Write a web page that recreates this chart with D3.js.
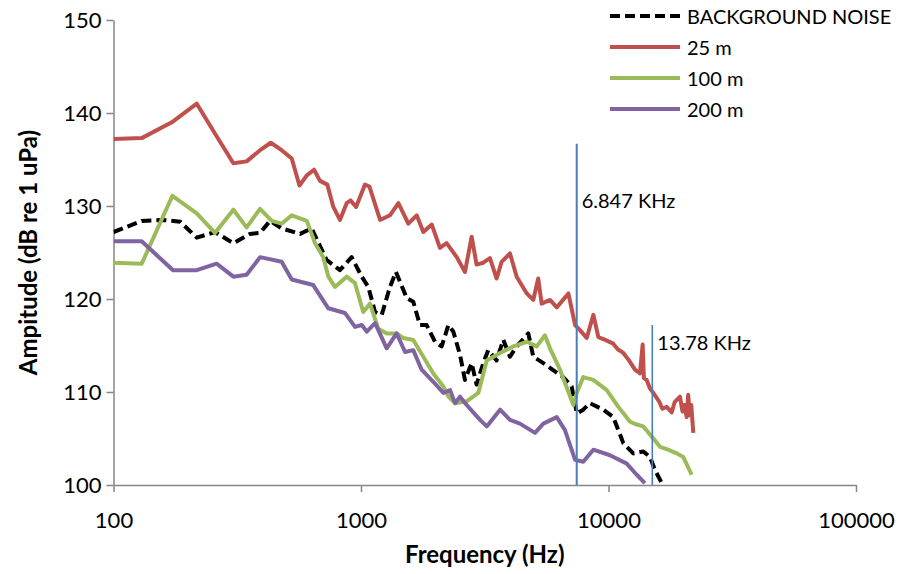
<!DOCTYPE html>
<html>
<head>
<meta charset="utf-8">
<script src="https://cdn.jsdelivr.net/npm/d3@7"></script>
<style>
    html, body { margin: 0; padding: 0; background: #fff; }
    #chart { width: 902px; height: 574px; }
    .axis path, .axis line { stroke: #868686; stroke-width: 1.5; }
    .axis text { font-family: Lato, 'Open Sans', sans-serif; font-size: 22px; fill: #000; }
    .title { font-family: Lato, 'Open Sans', sans-serif; font-size: 24px; font-weight: bold; fill: #000; }
    .legend text, .marker text { font-family: Lato, 'Open Sans', sans-serif; font-size: 20px; fill: #000; }
    .line { fill: none; stroke-width: 4; stroke-linejoin: round; }
</style>
</head>
<body>
<div id="chart"></div>
<script>

const xTicks = [100, 1000, 10000, 100000];
const yTicks = [100, 110, 120, 130, 140, 150];

const seriesNames = ['BACKGROUND NOISE', '25 m', '100 m', '200 m'];

// [frequency Hz, amplitude dB]
const backgroundNoise = [
    [100, 127.2], [130, 128.4], [159, 128.5], [186, 128.3], [217, 126.6], [257, 127.2],
    [305, 126.0], [356, 127.0], [391, 127.1], [429, 128.4], [478, 127.6], [567, 127.0],
    [632, 127.6], [726, 124.2], [822, 123.1], [917, 124.5], [1007, 122.4], [1070, 121.3],
    [1140, 118.6], [1213, 118.3], [1309, 121.3], [1384, 122.9], [1531, 120.1], [1626, 119.7],
    [1730, 117.2], [1841, 117.2], [1991, 115.4], [2118, 114.9], [2254, 117.2], [2360, 116.5],
    [2512, 114.0], [2630, 111.3], [2800, 113.1], [2931, 110.8], [3118, 113.1], [3266, 114.5],
    [3532, 113.4], [3758, 115.6], [3999, 113.8], [4256, 114.9], [4742, 116.3], [4966, 113.8],
    [5455, 113.1], [5803, 112.6], [6561, 111.6], [7096, 110.6], [7447, 107.7], [7907, 108.1],
    [8414, 108.8], [9528, 108.1], [10450, 107.3], [11480, 104.5], [12590, 103.4], [13830, 103.6],
    [14720, 103.0], [15420, 101.6], [16410, 100.2]
];

const range25m = [
    [100, 137.2], [130, 137.3], [172, 139.0], [217, 141.0], [261, 137.5], [305, 134.6],
    [345, 134.8], [391, 136.0], [432, 136.8], [478, 136.0], [525, 135.1], [564, 132.2],
    [604, 133.3], [646, 133.9], [683, 132.7], [731, 132.3], [773, 129.9], [822, 128.5],
    [875, 130.3], [908, 130.6], [955, 129.9], [1038, 132.3], [1081, 132.1], [1194, 128.5],
    [1309, 129.0], [1416, 130.3], [1553, 128.1], [1679, 129.0], [1786, 127.2], [1932, 128.0],
    [2084, 125.5], [2218, 126.0], [2437, 124.5], [2630, 122.9], [2800, 126.7], [2931, 123.7],
    [3118, 123.9], [3319, 124.4], [3532, 122.2], [3700, 124.0], [3999, 124.9], [4256, 122.4],
    [4675, 120.6], [4966, 119.9], [5200, 122.2], [5370, 119.5], [5803, 119.9], [6180, 119.1],
    [6886, 120.6], [7328, 117.2], [7700, 116.6], [8166, 115.8], [8685, 118.3], [9099, 115.9],
    [9700, 115.6], [10450, 115.2], [10900, 114.6], [11480, 114.2], [12100, 113.4], [12790, 112.4],
    [13400, 112.0], [13740, 115.1], [13900, 111.5], [14260, 111.3], [14700, 110.4], [15170, 109.9],
    [16000, 109.0], [16500, 108.2], [17180, 108.4], [18000, 107.8], [18500, 108.9], [19440, 109.5],
    [19900, 107.9], [20300, 108.6], [20690, 107.3], [20990, 109.7], [21300, 107.5], [21600, 108.6],
    [22010, 105.6]
];

const range100m = [
    [100, 123.9], [130, 123.8], [173, 131.1], [217, 129.2], [257, 127.1], [305, 129.6],
    [345, 127.7], [391, 129.7], [436, 128.4], [478, 128.1], [525, 129.0], [604, 128.4],
    [652, 126.0], [704, 124.5], [738, 122.4], [785, 121.3], [875, 122.4], [946, 121.7],
    [1021, 118.6], [1087, 119.5], [1175, 116.8], [1270, 116.3], [1393, 116.3], [1482, 115.8],
    [1626, 115.6], [1786, 113.8], [1959, 112.0], [2152, 110.6], [2254, 109.5], [2397, 108.8],
    [2673, 109.0], [2979, 109.9], [3221, 113.4], [3647, 114.2], [4121, 114.9], [4675, 115.4],
    [5129, 114.9], [5535, 116.1], [5803, 114.7], [6368, 112.4], [7211, 108.6], [7463, 110.0],
    [7907, 111.6], [8685, 111.3], [9840, 110.2], [10960, 108.4], [12220, 106.8], [13000, 106.5],
    [13830, 106.3], [14960, 105.2], [16150, 104.1], [17400, 103.8], [18870, 103.4], [20060, 103.0],
    [21680, 101.1]
];

const range200m = [
    [100, 126.2], [130, 126.2], [174, 123.1], [217, 123.1], [261, 123.8], [305, 122.4],
    [345, 122.6], [391, 124.5], [478, 124.0], [525, 122.1], [641, 121.5], [738, 119.0],
    [861, 118.5], [946, 117.0], [1007, 117.2], [1055, 116.5], [1140, 117.4], [1270, 114.7],
    [1393, 116.3], [1507, 114.3], [1626, 114.5], [1758, 112.4], [1959, 111.1], [2152, 109.9],
    [2291, 110.2], [2397, 108.8], [2512, 109.5], [2673, 108.6], [3027, 107.0], [3221, 106.3],
    [3647, 108.1], [3999, 107.0], [4387, 106.6], [5047, 105.6], [5455, 106.6], [6180, 107.3],
    [6670, 105.9], [7328, 102.7], [7907, 102.5], [8685, 103.8], [10140, 103.2], [11850, 102.3],
    [13000, 101.1], [14030, 100.2]
];

// cut-off markers
const markerFreqs = [7440, 15030];
const markerTops = [136.7, 117.2];
const markerLabels = ['6.847 KHz', '13.78 KHz'];
const markerLabelLevels = [130.6, 115.4];


class SpectrumChart {


    constructor(series) {

        this._series = series;
        this._width = 902;
        this._height = 574;
        this._margin = {
            left: 113.5,
            top: 20,
            right: 46,
            bottom: 89
        };
    }


    renderTo(selector) {

        this._svg = d3.select(selector)
            .append('svg')
            .attr('width', this._width)
            .attr('height', this._height);

        this._canvas = this._svg
            .append('g')
            .attr('transform', 'translate(' + [this._margin.left, this._margin.top] + ')');

        this._canvas.append('defs')
            .append('clipPath')
            .attr('id', 'clip')
            .append('rect')
            .attr('x', 0)
            .attr('y', -5)
            .attr('width', this._getInnerWidth())
            .attr('height', this._getInnerHeight() + 5);

        this._drawAxes();
        this._drawSeries();
        this._drawMarkers();
        this._drawLegend();

        return this;
    }


    _drawAxes() {

        const x = this._getXScale();
        const y = this._getYScale();

        this._canvas.append('g')
            .attr('class', 'axis y-axis')
            .call(d3.axisLeft(y)
                .tickValues(yTicks)
                .tickSize(7)
                .tickSizeOuter(0)
                .tickPadding(5));

        this._canvas.append('g')
            .attr('class', 'axis x-axis')
            .attr('transform', 'translate(0,' + this._getInnerHeight() + ')')
            .call(d3.axisBottom(x)
                .tickValues(xTicks)
                .tickFormat(d3.format('d'))
                .tickSize(7)
                .tickSizeOuter(0)
                .tickPadding(20));

        this._svg.append('text')
            .attr('class', 'title')
            .attr('transform', 'translate(27,' + (this._margin.top + this._getInnerHeight() / 2) + ') rotate(-90)')
            .attr('text-anchor', 'middle')
            .attr('dominant-baseline', 'central')
            .text('Ampitude (dB re 1 uPa)');

        this._svg.append('text')
            .attr('class', 'title')
            .attr('x', this._margin.left + this._getInnerWidth() / 2)
            .attr('y', 553)
            .attr('text-anchor', 'middle')
            .attr('dominant-baseline', 'central')
            .text('Frequency (Hz)');
    }


    _drawSeries() {

        const line = this._getLineGenerator();

        this._canvas.append('g')
            .attr('clip-path', 'url(#clip)')
            .selectAll('path')
            .data(this._series)
            .join('path')
            .attr('class', 'line')
            .attr('stroke', d => d.color)
            .attr('stroke-dasharray', d => d.dash)
            .attr('d', d => line(d.values));
    }


    _drawMarkers() {

        const x = this._getXScale();
        const y = this._getYScale();

        const marker = this._canvas.selectAll('g.marker')
            .data(markerFreqs)
            .join('g')
            .attr('class', 'marker');

        marker.append('line')
            .attr('x1', d => x(d))
            .attr('x2', d => x(d))
            .attr('y1', (d, i) => y(markerTops[i]))
            .attr('y2', y(100))
            .attr('stroke', '#4a7ebb')
            .attr('stroke-width', (d, i) => i === 0 ? 2 : 1.6);

        marker.append('text')
            .attr('x', d => x(d) + 5)
            .attr('y', (d, i) => y(markerLabelLevels[i]))
            .attr('dominant-baseline', 'central')
            .text((d, i) => markerLabels[i]);
    }


    _drawLegend() {

        const rows = this._svg.append('g')
            .attr('class', 'legend')
            .attr('transform', 'translate(610,16)')
            .selectAll('g')
            .data(this._series)
            .join('g')
            .attr('transform', (d, i) => 'translate(0,' + (i * 31) + ')');

        rows.append('line')
            .attr('class', 'line')
            .attr('x1', 0)
            .attr('x2', 70)
            .attr('stroke', d => d.color)
            .attr('stroke-dasharray', d => d.dash);

        rows.append('text')
            .attr('x', 77)
            .attr('dominant-baseline', 'central')
            .text(d => d.name);
    }


    _getLineGenerator() {

        const x = this._getXScale();
        const y = this._getYScale();

        return d3.line()
            .x(d => x(d[0]))
            .y(d => y(d[1]));
    }


    _getXScale() {

        return d3.scaleLog()
            .domain([100, 100000])
            .range([0, this._getInnerWidth()]);
    }


    _getYScale() {

        return d3.scaleLinear()
            .domain([100, 150])
            .range([this._getInnerHeight(), 0]);
    }


    _getInnerWidth() {

        return this._width - this._margin.left - this._margin.right;
    }


    _getInnerHeight() {

        return this._height - this._margin.top - this._margin.bottom;
    }
}


const colors = ['#000000', '#c0504d', '#9bbb59', '#8064a2'];
const dashes = ['10,5', null, null, null];

new SpectrumChart(
    [backgroundNoise, range25m, range100m, range200m].map((values, i) => ({
        name: seriesNames[i],
        values: values,
        color: colors[i],
        dash: dashes[i]
    }))
).renderTo('#chart');

</script>
</body>
</html>
